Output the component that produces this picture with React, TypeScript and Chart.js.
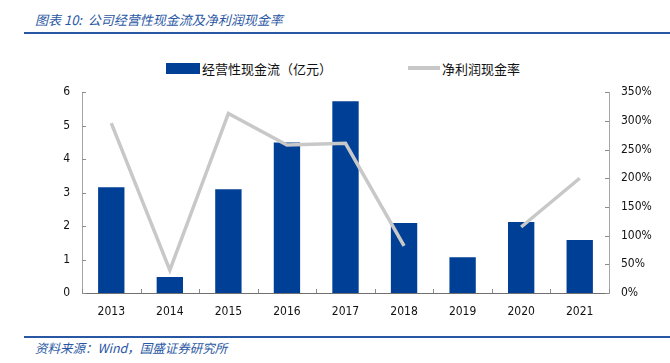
import React, { useEffect, useRef } from "react";
import { Chart, registerables } from "chart.js";

Chart.register(...registerables);

const years = ["2013", "2014", "2015", "2016", "2017", "2018", "2019", "2020", "2021"];
const cashFlow = [3.16, 0.48, 3.1, 4.5, 5.73, 2.09, 1.07, 2.12, 1.58];
const cashRatio = [296, 40, 313, 258, 261, 82, null, 115, 200];
const leftTicks = [0, 1, 2, 3, 4, 5, 6];
const rightTicks = [0, 50, 100, 150, 200, 250, 300, 350];

const title = "图表 10:  公司经营性现金流及净利润现金率";
const source = "资料来源：Wind，国盛证券研究所";
const barLabel = "经营性现金流（亿元）";
const lineLabel = "净利润现金率";

const BAR_COLOR = "#003F96";
const LINE_COLOR = "#C8C8C8";
const BLUE_TEXT = "#2A57A3";
const TICK_FONT = "'DejaVu Sans Condensed', 'DejaVu Sans', sans-serif";
const CJK = "'Noto Sans CJK SC', sans-serif";

const innerTicks = {
  id: "innerTicks",
  afterDraw(chart: any) {
    const ctx = chart.ctx;
    const { x, y, y1 } = chart.scales;
    ctx.save();
    ctx.strokeStyle = "#8C8C8C";
    ctx.lineWidth = 1;
    ctx.beginPath();
    leftTicks.forEach((v) => {
      const py = Math.round(y.getPixelForValue(v)) + 0.5;
      ctx.moveTo(x.left, py);
      ctx.lineTo(x.left + 4, py);
    });
    rightTicks.forEach((v) => {
      const py = Math.round(y1.getPixelForValue(v)) + 0.5;
      ctx.moveTo(x.right - 4, py);
      ctx.lineTo(x.right, py);
    });
    for (let i = 0; i <= years.length; i++) {
      const px = Math.round(x.getPixelForValue(i - 0.5)) + 0.5;
      ctx.moveTo(px, y.bottom);
      ctx.lineTo(px, y.bottom - 4);
    }
    ctx.stroke();
    ctx.restore();
  },
};

export default function App() {
  const ref = useRef<HTMLCanvasElement>(null);

  useEffect(() => {
    if (!ref.current) return;
    const chart = new Chart(ref.current, {
      type: "bar",
      data: {
        labels: years,
        datasets: [
          {
            type: "line",
            label: lineLabel,
            data: cashRatio as any,
            yAxisID: "y1",
            borderColor: LINE_COLOR,
            borderWidth: 3.5,
            pointRadius: 0,
            pointHoverRadius: 0,
            tension: 0,
            spanGaps: false,
            fill: false,
            order: 0,
          } as any,
          {
            type: "bar",
            label: barLabel,
            data: cashFlow,
            yAxisID: "y",
            backgroundColor: BAR_COLOR,
            borderWidth: 0,
            barPercentage: 0.45,
            categoryPercentage: 1,
            order: 1,
          },
        ],
      },
      options: {
        responsive: false,
        animation: false,
        devicePixelRatio: 1,
        layout: { padding: { top: 0, left: 0, right: 0, bottom: 0 } },
        plugins: {
          legend: { display: false },
          tooltip: { enabled: false },
        },
        scales: {
          x: {
            type: "category",
            offset: true,
            grid: { display: false, drawTicks: false },
            border: { display: true, color: "#707070", width: 1 },
            ticks: {
              color: "#111",
              font: { family: TICK_FONT, size: 12 },
              padding: 12,
              maxRotation: 0,
              autoSkip: false,
            },
            afterFit: (s: any) => {
              s.height = 30;
            },
          },
          y: {
            type: "linear",
            position: "left",
            min: 0,
            max: 6,
            grid: { display: false, drawTicks: false },
            border: { display: true, color: "#A6A6A6", width: 1 },
            ticks: {
              stepSize: 1,
              color: "#111",
              font: { family: TICK_FONT, size: 12 },
              padding: 12,
            },
            afterFit: (s: any) => {
              s.width = 82;
            },
          },
          y1: {
            type: "linear",
            position: "right",
            min: 0,
            max: 350,
            grid: { display: false, drawTicks: false },
            border: { display: true, color: "#A6A6A6", width: 1 },
            ticks: {
              stepSize: 50,
              color: "#111",
              font: { family: TICK_FONT, size: 12 },
              padding: 12,
              callback: (v: any) => v + "%",
            },
            afterFit: (s: any) => {
              s.width = 61;
            },
          },
        },
      },
      plugins: [innerTicks],
    });
    return () => chart.destroy();
  }, []);

  return (
    <div
      style={{
        position: "fixed",
        left: 0,
        top: 0,
        width: 670,
        height: 363,
        background: "#fff",
        overflow: "hidden",
      }}
    >
      <div
        style={{
          position: "absolute",
          left: 35,
          top: 11,
          fontFamily: CJK,
          fontStyle: "italic",
          fontSize: 13,
          color: BLUE_TEXT,
          whiteSpace: "pre",
          lineHeight: "18px",
        }}
      >
        {title}
      </div>
      <div
        style={{
          position: "absolute",
          left: 24,
          top: 32,
          width: 646,
          height: 2,
          background: "#2A57A3",
        }}
      />
      <div
        style={{
          position: "absolute",
          left: 166,
          top: 59,
          height: 18,
          display: "flex",
          alignItems: "center",
          fontFamily: CJK,
          fontSize: 13,
          color: "#111",
          whiteSpace: "nowrap",
        }}
      >
        <span style={{ display: "inline-block", width: 34, height: 11, background: BAR_COLOR, marginRight: 2 }} />
        <span>{barLabel}</span>
        <span style={{ display: "inline-block", width: 32, height: 4, background: LINE_COLOR, marginLeft: 76, marginRight: 2 }} />
        <span>{lineLabel}</span>
      </div>
      <canvas
        ref={ref}
        width={670}
        height={250}
        style={{ position: "absolute", left: 0, top: 73, width: 670, height: 250 }}
      />
      <div
        style={{
          position: "absolute",
          left: 24,
          top: 336,
          width: 646,
          height: 2,
          background: "#2A57A3",
        }}
      />
      <div
        style={{
          position: "absolute",
          left: 35,
          top: 339,
          fontFamily: CJK,
          fontStyle: "italic",
          fontSize: 12.5,
          color: BLUE_TEXT,
          whiteSpace: "pre",
          lineHeight: "17px",
        }}
      >
        {source}
      </div>
    </div>
  );
}
